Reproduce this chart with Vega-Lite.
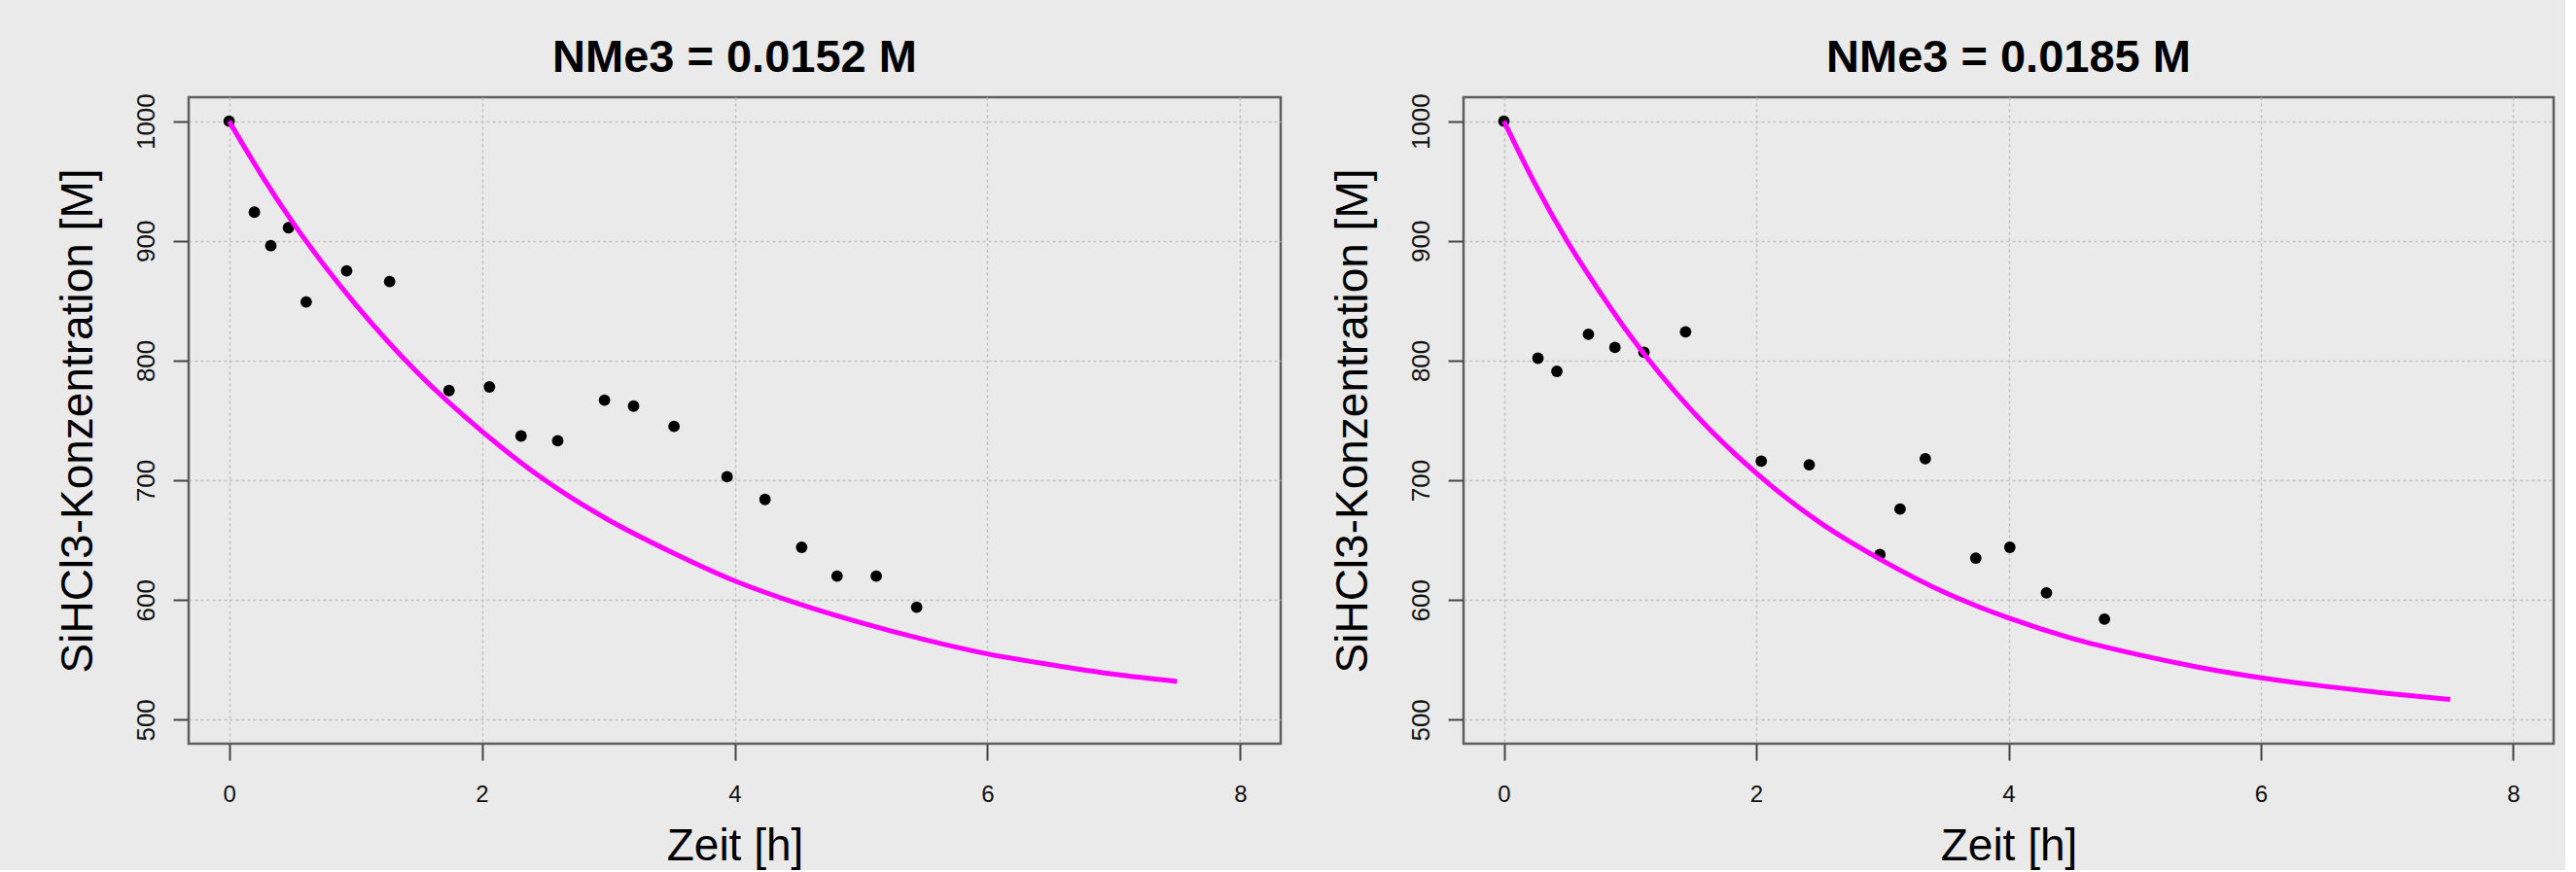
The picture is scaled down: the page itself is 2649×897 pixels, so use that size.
{
  "$schema": "https://vega.github.io/schema/vega-lite/v6.json",
  "background": "#e9eae9",
  "padding": {"left": 55, "top": 34, "right": 10, "bottom": 0},
  "spacing": 188,
  "bounds": "flush",
  "config": {
    "font": "Liberation Sans",
    "view": {"stroke": "#5e5e5e", "strokeWidth": 2.5, "fill": null},
    "title": {"fontSize": 47, "fontWeight": "bold", "color": "#000000", "anchor": "middle", "baseline": "alphabetic", "offset": 12},
    "axis": {
      "domain": false,
      "grid": true,
      "gridDash": [3, 3],
      "gridColor": "#c2c2c2",
      "gridWidth": 1.5,
      "tickColor": "#444444",
      "tickWidth": 2,
      "labelColor": "#111111",
      "labelFlush": false,
      "labelOverlap": false,
      "titleColor": "#000000",
      "titleFontWeight": "normal",
      "titleFontSize": 46,
      "format": "d"
    },
    "axisX": {"tickSize": 17, "labelFontSize": 24, "labelPadding": 23, "titlePadding": 19},
    "axisY": {"tickSize": 16, "labelFontSize": 26, "labelAngle": 270, "labelAlign": "center", "labelBaseline": "alphabetic", "labelPadding": 20, "titlePadding": 33}
  },
  "datasets": {
    "pts": [
      {"panel": 1, "t": 0, "c": 1000}, {"panel": 1, "t": 0.2, "c": 924}, {"panel": 1, "t": 0.33, "c": 896},
      {"panel": 1, "t": 0.47, "c": 911}, {"panel": 1, "t": 0.61, "c": 849}, {"panel": 1, "t": 0.93, "c": 875},
      {"panel": 1, "t": 1.27, "c": 866}, {"panel": 1, "t": 1.74, "c": 775}, {"panel": 1, "t": 2.06, "c": 778},
      {"panel": 1, "t": 2.31, "c": 737}, {"panel": 1, "t": 2.6, "c": 733}, {"panel": 1, "t": 2.97, "c": 767},
      {"panel": 1, "t": 3.2, "c": 762}, {"panel": 1, "t": 3.52, "c": 745}, {"panel": 1, "t": 3.94, "c": 703},
      {"panel": 1, "t": 4.24, "c": 684}, {"panel": 1, "t": 4.53, "c": 644}, {"panel": 1, "t": 4.81, "c": 620},
      {"panel": 1, "t": 5.12, "c": 620}, {"panel": 1, "t": 5.44, "c": 594},
      {"panel": 2, "t": 0, "c": 1000}, {"panel": 2, "t": 0.27, "c": 802}, {"panel": 2, "t": 0.42, "c": 791},
      {"panel": 2, "t": 0.67, "c": 822}, {"panel": 2, "t": 0.88, "c": 811}, {"panel": 2, "t": 1.11, "c": 807},
      {"panel": 2, "t": 1.44, "c": 824}, {"panel": 2, "t": 2.04, "c": 716}, {"panel": 2, "t": 2.42, "c": 713},
      {"panel": 2, "t": 2.98, "c": 638}, {"panel": 2, "t": 3.14, "c": 676}, {"panel": 2, "t": 3.34, "c": 718},
      {"panel": 2, "t": 3.74, "c": 635}, {"panel": 2, "t": 4.01, "c": 644}, {"panel": 2, "t": 4.3, "c": 606},
      {"panel": 2, "t": 4.76, "c": 584}
    ],
    "fit": [
      {"panel": 1, "t": 0, "c": 1000}, {"panel": 1, "t": 0.25, "c": 956}, {"panel": 1, "t": 0.5, "c": 916},
      {"panel": 1, "t": 0.75, "c": 880}, {"panel": 1, "t": 1, "c": 847}, {"panel": 1, "t": 1.5, "c": 789},
      {"panel": 1, "t": 2, "c": 741}, {"panel": 1, "t": 2.5, "c": 700}, {"panel": 1, "t": 3, "c": 667},
      {"panel": 1, "t": 3.5, "c": 640}, {"panel": 1, "t": 4, "c": 616}, {"panel": 1, "t": 4.5, "c": 597},
      {"panel": 1, "t": 5, "c": 581}, {"panel": 1, "t": 5.5, "c": 567}, {"panel": 1, "t": 6, "c": 555},
      {"panel": 1, "t": 6.5, "c": 546}, {"panel": 1, "t": 7, "c": 538}, {"panel": 1, "t": 7.5, "c": 532},
      {"panel": 2, "t": 0, "c": 1000}, {"panel": 2, "t": 0.25, "c": 947}, {"panel": 2, "t": 0.5, "c": 900},
      {"panel": 2, "t": 0.75, "c": 859}, {"panel": 2, "t": 1, "c": 821}, {"panel": 2, "t": 1.5, "c": 757},
      {"panel": 2, "t": 2, "c": 706}, {"panel": 2, "t": 2.5, "c": 665}, {"panel": 2, "t": 3, "c": 633},
      {"panel": 2, "t": 3.5, "c": 606}, {"panel": 2, "t": 4, "c": 585}, {"panel": 2, "t": 4.5, "c": 568},
      {"panel": 2, "t": 5, "c": 555}, {"panel": 2, "t": 5.5, "c": 544}, {"panel": 2, "t": 6, "c": 535},
      {"panel": 2, "t": 6.5, "c": 528}, {"panel": 2, "t": 7, "c": 522}, {"panel": 2, "t": 7.5, "c": 517}
    ]
  },
  "hconcat": [
    {
      "width": 1123,
      "height": 665,
      "title": {"text": "NMe3 = 0.0152 M"},
      "layer": [
        {
          "data": {"name": "pts"},
          "transform": [{"filter": "datum.panel == 1"}],
          "mark": {"type": "circle", "color": "#000000", "size": 140, "opacity": 1},
          "encoding": {
            "x": {"field": "t", "type": "quantitative", "scale": {"domain": [-0.32, 8.32], "nice": false, "zero": false}, "axis": {"values": [0, 2, 4, 6, 8], "title": "Zeit [h]"}},
            "y": {"field": "c", "type": "quantitative", "scale": {"domain": [480, 1020], "nice": false, "zero": false}, "axis": {"values": [500, 600, 700, 800, 900, 1000], "title": "SiHCl3-Konzentration [M]"}}
          }
        },
        {
          "data": {"name": "fit"},
          "transform": [{"filter": "datum.panel == 1"}],
          "mark": {"type": "line", "color": "#ff00ff", "strokeWidth": 5, "interpolate": "monotone"},
          "encoding": {
            "x": {"field": "t", "type": "quantitative"},
            "y": {"field": "c", "type": "quantitative"}
          }
        },
        {
          "mark": {"type": "rule", "color": "#3c3c3c", "strokeWidth": 3.5},
          "encoding": {"x": {"datum": 0}, "x2": {"datum": 8}, "y": {"datum": 480}}
        }
      ]
    },
    {
      "width": 1121,
      "height": 665,
      "title": {"text": "NMe3 = 0.0185 M"},
      "layer": [
        {
          "data": {"name": "pts"},
          "transform": [{"filter": "datum.panel == 2"}],
          "mark": {"type": "circle", "color": "#000000", "size": 140, "opacity": 1},
          "encoding": {
            "x": {"field": "t", "type": "quantitative", "scale": {"domain": [-0.32, 8.32], "nice": false, "zero": false}, "axis": {"values": [0, 2, 4, 6, 8], "title": "Zeit [h]"}},
            "y": {"field": "c", "type": "quantitative", "scale": {"domain": [480, 1020], "nice": false, "zero": false}, "axis": {"values": [500, 600, 700, 800, 900, 1000], "title": "SiHCl3-Konzentration [M]"}}
          }
        },
        {
          "data": {"name": "fit"},
          "transform": [{"filter": "datum.panel == 2"}],
          "mark": {"type": "line", "color": "#ff00ff", "strokeWidth": 5, "interpolate": "monotone"},
          "encoding": {
            "x": {"field": "t", "type": "quantitative"},
            "y": {"field": "c", "type": "quantitative"}
          }
        },
        {
          "mark": {"type": "rule", "color": "#3c3c3c", "strokeWidth": 3.5},
          "encoding": {"x": {"datum": 0}, "x2": {"datum": 8}, "y": {"datum": 480}}
        }
      ]
    }
  ]
}
